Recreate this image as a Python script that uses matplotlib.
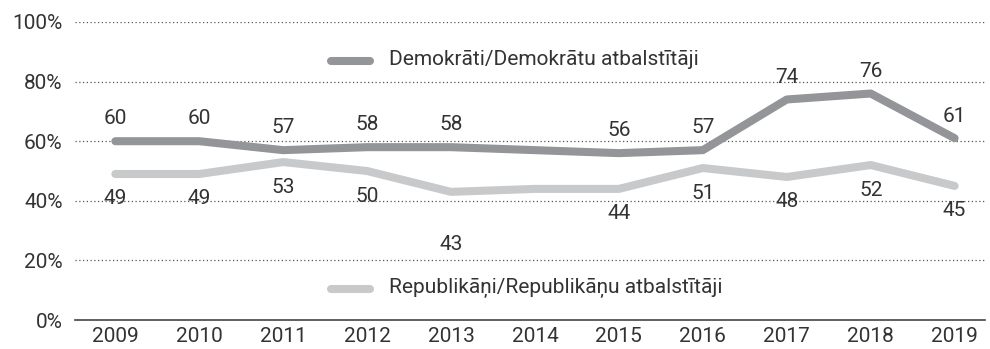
import numpy as np
import matplotlib.pyplot as plt

plt.rcParams['font.family'] = ['Roboto', 'DejaVu Sans']

years = [2009, 2010, 2011, 2012, 2013, 2014, 2015, 2016, 2017, 2018, 2019]
dem = [60, 60, 57, 58, 58, 57, 56, 57, 74, 76, 61]
rep = [49, 49, 53, 50, 43, 44, 44, 51, 48, 52, 45]
dem_name = "Demokrāti/Demokrātu atbalstītāji"
rep_name = "Republikāņi/Republikāņu atbalstītāji"
# 2014 has no value label in the original
show_label = [True, True, True, True, True, False, True, True, True, True, True]

dem_col = "#939598"
rep_col = "#c8c9cb"
txt_col = "#333333"

fig = plt.figure(figsize=(9.9, 3.49), dpi=100)
ax = fig.add_axes([0.0758, 0.083, 0.919, 0.854])

ax.plot(years, dem, color=dem_col, lw=5.8, solid_capstyle="round", solid_joinstyle="round", zorder=3)
ax.plot(years, rep, color=rep_col, lw=5.8, solid_capstyle="round", solid_joinstyle="round", zorder=3)

for i, (x, d, r) in enumerate(zip(years, dem, rep)):
    if not show_label[i]:
        continue
    ax.annotate(str(d), (x, d), xytext=(0, 16), textcoords="offset points",
                ha="center", va="center", fontsize=15, color=txt_col)
    off = -38 if x == 2013 else -18
    ax.annotate(str(r), (x, r), xytext=(0, off), textcoords="offset points",
                ha="center", va="center", fontsize=15, color=txt_col)

ax.set_xlim(2008.52, 2019.36)
ax.set_ylim(0, 100)
ax.set_xticks(years)
ax.set_yticks([0, 20, 40, 60, 80, 100])
ax.set_yticklabels([f"{v}%" for v in [0, 20, 40, 60, 80, 100]])
ax.tick_params(length=0, labelsize=15, colors=txt_col)
ax.tick_params(axis="x", pad=5)
ax.tick_params(axis="y", pad=9)

for v in [20, 40, 60, 80, 100]:
    ax.axhline(v, color="#555555", lw=0.9, ls=(0, (1, 2)), zorder=1)

for s in ["top", "right", "left"]:
    ax.spines[s].set_visible(False)
ax.spines["bottom"].set_color("#444444")
ax.spines["bottom"].set_linewidth(1.2)

# legend entries placed inside the plot
for name, col, yy in [(dem_name, dem_col, 0.869), (rep_name, rep_col, 0.104)]:
    ax.plot([0.281, 0.324], [yy, yy], transform=ax.transAxes, color=col, lw=5.8,
            solid_capstyle="round", clip_on=False)
    ax.text(0.345, yy + 0.005, name, transform=ax.transAxes, fontsize=15,
            color=txt_col, va="center", ha="left")

fig.savefig("out.png", dpi=100)
